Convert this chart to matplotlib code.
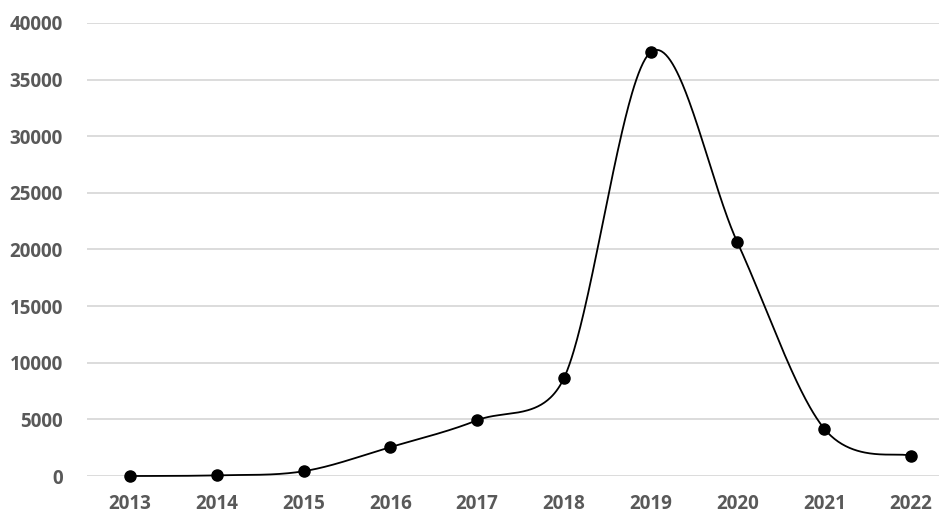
import numpy as np
import matplotlib
matplotlib.use("Agg")
import matplotlib.pyplot as plt

years = ["2013", "2014", "2015", "2016", "2017", "2018", "2019", "2020", "2021", "2022"]
values = [0, 60, 420, 2550, 4920, 8630, 37420, 20620, 4180, 1780]
y_ticks = [0, 5000, 10000, 15000, 20000, 25000, 30000, 35000, 40000]

plt.rcParams['font.family'] = ['Open Sans', 'DejaVu Sans']

fig = plt.figure(figsize=(9.39, 5.13), dpi=100)
ax = fig.add_axes([86.6 / 939, 37 / 513, 1 - 86.6 / 939, 453 / 513])

x = np.arange(len(values), dtype=float)
y = np.array(values, dtype=float)

ax.set_xlim(-0.5, 9 + (939 - 911) / 86.8)
ax.set_ylim(0, 40000)

# Excel-like smoothed line, computed in display space
P = ax.transData.transform(np.column_stack([x, y]))
Pext = np.vstack([P[0], P, P[-1]])
t = np.linspace(0, 1, 80)[:, None]
curve = []
for i in range(len(P) - 1):
    p0, p1, p2, p3 = Pext[i], Pext[i + 1], Pext[i + 2], Pext[i + 3]
    d02 = np.linalg.norm(p2 - p0)
    d12 = np.linalg.norm(p2 - p1)
    d13 = np.linalg.norm(p3 - p1)
    f0 = 1 / 6
    f1 = 1 / 6
    if d02 / 6 >= d12 / 2 and d02 > 0:
        f0 = d12 / d02 / 2
    if d13 / 6 >= d12 / 2 and d13 > 0:
        f1 = d12 / d13 / 2
    c1 = p1 + (p2 - p0) * f0
    c2 = p2 - (p3 - p1) * f1
    b = (1 - t) ** 3 * p1 + 3 * (1 - t) ** 2 * t * c1 + 3 * (1 - t) * t ** 2 * c2 + t ** 3 * p2
    curve.append(b)
curve = np.vstack(curve)
curve_data = ax.transData.inverted().transform(curve)

ax.plot(curve_data[:, 0], curve_data[:, 1], color='black', lw=1.3, zorder=3, clip_on=False)
ax.plot(x, y, 'o', color='black', markersize=8, zorder=4, clip_on=False)

ax.set_yticks(y_ticks)
ax.set_yticklabels([str(v) for v in y_ticks])
ax.set_xticks(x)
ax.set_xticklabels(years)

for s in ax.spines.values():
    s.set_visible(False)
ax.grid(axis='y', color='#d9d9d9', lw=1.3)
ax.set_axisbelow(True)
ax.tick_params(axis='both', length=0, labelsize=13.5, labelcolor='#595959')
ax.tick_params(axis='y', pad=17)
ax.tick_params(axis='x', pad=13)
for lab in ax.get_xticklabels() + ax.get_yticklabels():
    lab.set_fontweight('bold')

fig.savefig("out.png", dpi=100)
